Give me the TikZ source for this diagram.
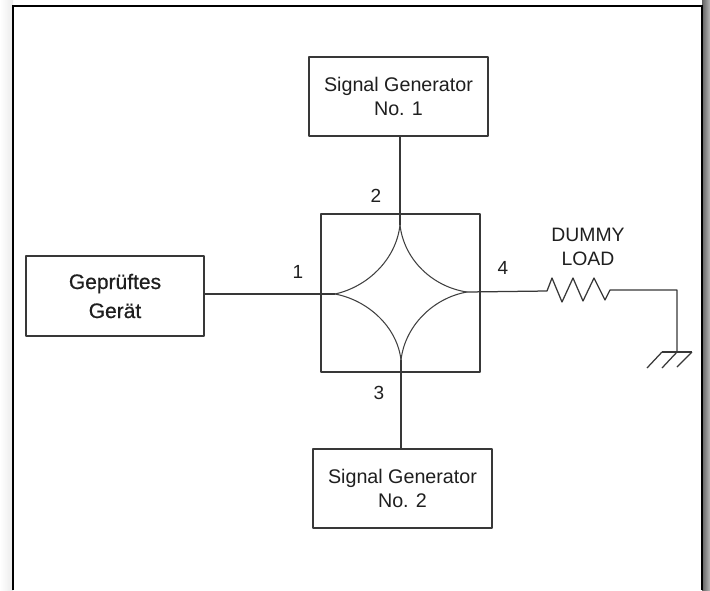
\documentclass[tikz,border=0pt]{standalone}
\usepackage{fontspec}
\setmainfont{Liberation Sans}
\tikzset{
  ink/.style={draw=black!78, line width=1.25pt, line join=round},
  arcline/.style={draw=black!75, line width=1.05pt},
  blockbox/.style={ink, fill=white, align=center, inner sep=0pt, text=black!88},
  sgbox/.style={blockbox, minimum width=179pt, minimum height=79pt, font=\fontsize{19.7}{24}\selectfont},
  portlabel/.style={text=black!88, inner sep=0pt, font=\fontsize{19}{22}\selectfont},
}
\begin{document}
\begin{tikzpicture}[x=1pt,y=-1pt]
\useasboundingbox (0,0) rectangle (710,590);
% page surround
\fill[white] (0,0) rectangle (710,590);
\shade[left color=white, right color=black!8, draw=none] (0,0) rectangle (13,590);
\shade[left color=black!62, right color=black!28, draw=none] (702,0) rectangle (710,590);
\fill[white] (13,6) rectangle (702,590);
\draw[black, line width=1.5pt] (13,590) -- (13,6) -- (702,6) -- (702,590);
% blocks
\node[sgbox] (sg1) at (398.5,96.5) {Signal Generator\\No. 1};
\node[sgbox] (sg2) at (402.5,488.5) {Signal Generator\\No. 2};
\node[blockbox, minimum width=178pt, minimum height=80pt, font=\fontsize{21}{29}\selectfont] (dut) at (115,296) {\addfontfeature{FakeBold=0.6}Geprüftes\\\addfontfeature{FakeBold=0.6}Gerät};
\node[ink, minimum width=159pt, minimum height=158pt, inner sep=0pt] (coupler) at (400.5,293) {};
% coupler tips
\coordinate (tipN) at (400,225);
\coordinate (tipS) at (401,360);
\coordinate (tipW) at (335,294);
\coordinate (tipE) at (467,292);
\draw[arcline] (tipN) .. controls (396,260) and (367,287) .. (tipW);
\draw[arcline] (tipN) .. controls (404,260) and (433,287) .. (tipE);
\draw[arcline] (tipS) .. controls (397,326) and (367,300) .. (tipW);
\draw[arcline] (tipS) .. controls (405,326) and (433,298) .. (tipE);
% connectors
\draw[ink] (tipN |- sg1.south) -- (tipN);
\draw[ink] (tipS) -- (tipS |- sg2.north);
\draw[ink, line width=1.5pt] (dut.east |- tipW) -- (tipW);
% load
\coordinate (resIn) at (547,291);
\coordinate (resOut) at (610,290);
\coordinate (gnd) at (677,352);
\draw[ink] (tipE) -- (resIn) -- (552,278) -- (562,302) -- (573,278) -- (583,301) -- (594,278) -- (605,300) -- (resOut) -- (gnd |- resOut) -- (gnd);
\draw[ink] (662,352) -- (692,352);
\draw[ink] (662,352) -- (647,368);
\draw[ink] (gnd) -- (662,368);
\draw[ink] (692,352) -- (677,367);
% labels
\node[portlabel, align=center, font=\fontsize{19.4}{24}\selectfont] (dummy) at (588,247) {DUMMY\\LOAD};
\node[portlabel] (p1) at (298,272) {1};
\node[portlabel] (p2) at (376,196) {2};
\node[portlabel] (p3) at (379,393) {3};
\node[portlabel] (p4) at (503,268) {4};
\end{tikzpicture}
\end{document}
